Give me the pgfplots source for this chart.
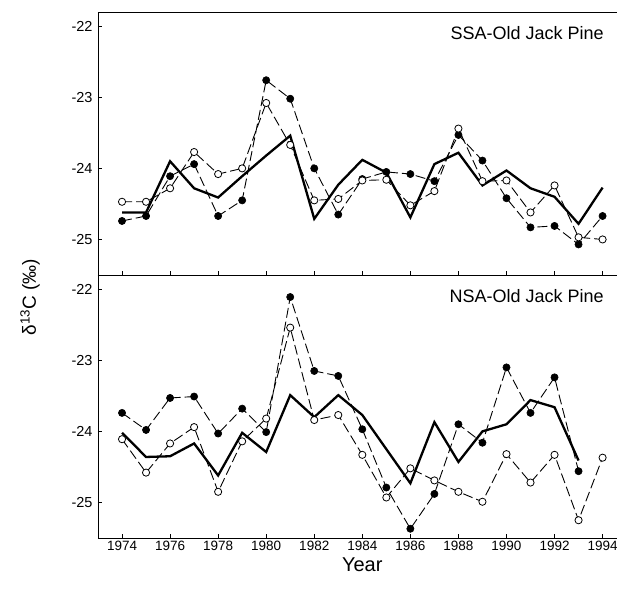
\documentclass[border=0pt]{standalone}
\usepackage{pgfplots}
\pgfplotsset{compat=1.18}
\usepackage{fontspec}
\setmainfont{Liberation Sans}
\newcommand{\tlfont}{\fontsize{13.5}{15}\selectfont}
\newcommand{\ylfont}{\fontsize{14.5}{16}\selectfont}

\pgfplotstableread{
year F O S
1974 -24.74 -24.47 -24.62
1975 -24.67 -24.47 -24.62
1976 -24.11 -24.28 -23.90
1977 -23.94 -23.77 -24.28
1978 -24.67 -24.08 -24.41
1979 -24.45 -24.00 -24.11
1980 -22.76 -23.08 -23.82
1981 -23.02 -23.67 -23.54
1982 -24.00 -24.45 -24.71
1983 -24.65 -24.43 -24.23
1984 -24.15 -24.17 -23.88
1985 -24.05 -24.16 -24.06
1986 -24.08 -24.52 -24.69
1987 -24.18 -24.32 -23.94
1988 -23.53 -23.44 -23.78
1989 -23.89 -24.18 -24.24
1990 -24.42 -24.17 -24.03
1991 -24.83 -24.62 -24.28
1992 -24.81 -24.24 -24.40
1993 -25.07 -24.97 -24.78
1994 -24.67 -25.00 -24.27
}\ssa

\pgfplotstableread{
year F S
1974 -23.74 -24.02
1975 -23.98 -24.36
1976 -23.53 -24.35
1977 -23.51 -24.17
1978 -24.03 -24.62
1979 -23.68 -24.02
1980 -24.01 -24.29
1981 -22.11 -23.49
1982 -23.15 -23.80
1983 -23.22 -23.49
1984 -23.97 -23.77
1985 -24.79 -24.25
1986 -25.37 -24.73
1987 -24.88 -23.87
1988 -23.90 -24.43
1989 -24.16 -24.00
1990 -23.10 -23.90
1991 -23.74 -23.56
1992 -23.24 -23.66
1993 -24.56 -24.41
}\nsa

\pgfplotstableread{
year O
1974 -24.11
1975 -24.58
1976 -24.17
1977 -23.94
1978 -24.85
1979 -24.14
1980 -23.82
1981 -22.54
1982 -23.84
1983 -23.77
1984 -24.33
1985 -24.93
1986 -24.52
1987 -24.69
1988 -24.85
1989 -24.99
1990 -24.32
1991 -24.72
1992 -24.33
1993 -25.25
1994 -24.37
}\nsaopen

\pgfplotsset{
  panel/.style={
    scale only axis, width=519pt, height=263pt,
    xmin=1973, xmax=1994.6, ymin=-25.5, ymax=-21.8,
    separate axis lines,
    axis x line=box, axis y line=left,
    x axis line style={-}, y axis line style={-},
    axis line style={line width=0.9pt, black},
    xtick={1974,1976,...,1994}, ytick={-25,-24,-23,-22},
    xtick pos=bottom, ytick pos=left,
    tick align=inside, major tick length=4pt,
    tick style={black, line width=0.6pt},
    xticklabel={\tlfont\pgfmathprintnumber[assume math mode=true,set thousands separator={}]{\tick}},
    yticklabel={\ylfont\pgfmathprintnumber[assume math mode=true]{\tick}},
    yticklabel style={xshift=-2pt},
    clip=false,
  },
  solidser/.style={black, line width=2.3pt, no marks},
  filledser/.style={black, line width=0.9pt, dash pattern=on 10pt off 4pt,
    mark=*, mark size=3.6pt, mark options={solid, fill=black, line width=0.6pt}},
  openser/.style={black, line width=0.9pt, dash pattern=on 10pt off 4pt,
    mark=*, mark size=3.6pt, mark options={solid, fill=white, line width=0.8pt}},
}

\begin{document}
\begin{tikzpicture}
\path[use as bounding box] (-98pt,-58pt) rectangle (519pt,538pt);

% bottom panel (NSA)
\begin{axis}[panel, at={(0pt,0pt)}, anchor=south west]
\addplot[solidser] table[x=year, y=S] {\nsa};
\addplot[filledser] table[x=year, y=F] {\nsa};
\addplot[openser] table[x=year, y=O] {\nsaopen};
\node[anchor=base east, font=\fontsize{18}{20}\selectfont] at (rel axis cs:0.981,0.894) {NSA-Old Jack Pine};
\node[anchor=base, font=\fontsize{20}{22}\selectfont] at (axis cs:1984,-25.5) [yshift=-33pt] {Year};
\end{axis}

% top panel (SSA)
\begin{axis}[panel, at={(0pt,263pt)}, anchor=south west, xticklabels={}]
\addplot[solidser] table[x=year, y=S] {\ssa};
\addplot[filledser] table[x=year, y=F] {\ssa};
\addplot[openser] table[x=year, y=O] {\ssa};
\node[anchor=base east, font=\fontsize{18}{20}\selectfont] at (rel axis cs:0.981,0.897) {SSA-Old Jack Pine};
\end{axis}

\node[rotate=90, font=\fontsize{19}{21}\selectfont] at (-68pt,241pt) {δ\textsuperscript{13}C (‰)};
\end{tikzpicture}
\end{document}
